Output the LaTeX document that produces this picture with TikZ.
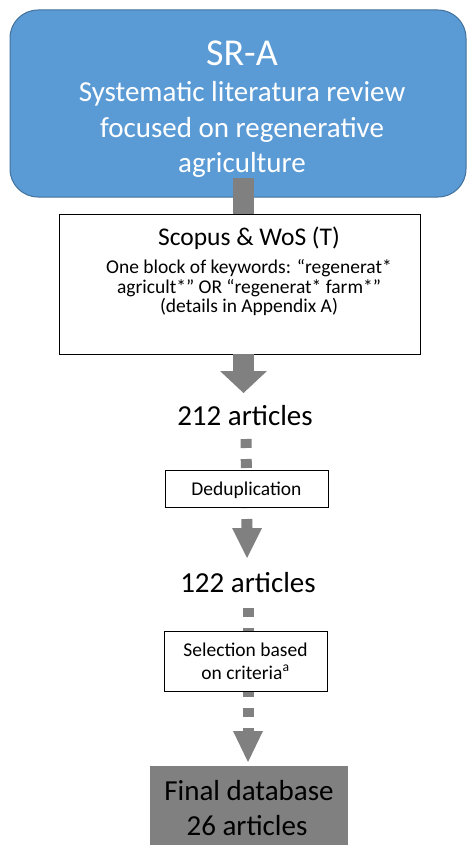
\documentclass[tikz,border=0pt]{standalone}
\usepackage{fontspec}
\setmainfont{Carlito}
\definecolor{boxblue}{HTML}{5B9BD5}
\definecolor{boxblueline}{HTML}{41719C}
\definecolor{flowgray}{HTML}{808080}
\begin{document}
\begin{tikzpicture}[x=1pt,y=-1pt,
  txt/.style={inner sep=0pt, anchor=base},
  bigtxt/.style={txt, font=\fontsize{29pt}{34pt}\selectfont},
  midtxt/.style={txt, font=\fontsize{25.5pt}{28pt}\selectfont},
  smalltxt/.style={txt, font=\fontsize{19.5pt}{22pt}\selectfont},
  bigshaft/.style={draw=flowgray, line width=21pt},
  dotshaft/.style={draw=flowgray, line width=11pt, dash pattern=on 9pt off 11pt},
  headfill/.style={fill=flowgray},
  stepbox/.style={draw=black, fill=white, line width=0.9pt, inner sep=0pt},
]
\useasboundingbox (0,0) rectangle (466,845);

% top blue box
\node[draw=boxblueline, fill=boxblue, line width=1pt, rounded corners=28pt,
      minimum width=456pt, minimum height=187pt, inner sep=0pt] (sra) at (238,103.5) {};
\node[txt, text=white, font=\fontsize{38pt}{40pt}\selectfont] (sraT) at (242,66) {SR-A};
\node[bigtxt, text=white] (sra1) at (242,102) {Systematic literatura review};
\node[bigtxt, text=white] (sra2) at (242,138) {focused on regenerative};
\node[bigtxt, text=white] (sra3) at (242,173) {agriculture};

% search box
\node[stepbox, minimum width=361pt, minimum height=140pt] (search) at (239.5,284) {};
\coordinate (s1top) at (243,178);
\draw[bigshaft] (s1top) -- (s1top |- search.north);
\node[midtxt] (searchT) at (249,245) {Scopus \& WoS (T)};
\node[smalltxt] (search1) at (249,273) {One block of keywords: “regenerat*};
\node[smalltxt] (search2) at (249,293) {agricult*” OR “regenerat* farm*”};
\node[smalltxt] (search3) at (249,312) {(details in Appendix A)};

% arrow 1
\coordinate (tip1) at (243.5,393);
\draw[bigshaft] (tip1 |- search.south) -- ([yshift=22pt]tip1);
\fill[headfill] ([xshift=-23.5pt,yshift=22pt]tip1) -- ([xshift=23.5pt,yshift=22pt]tip1) -- (tip1) -- cycle;

\node[bigtxt] (n212) at (245,425) {212 articles};

% dotted arrow 2 with deduplication
\coordinate (d2s) at (246,439);
\coordinate (tip2) at (247,558);
\draw[dotshaft] (d2s) -- ([yshift=30pt]tip2);
\fill[headfill] ([xshift=-15pt,yshift=30pt]tip2) -- ([xshift=15pt,yshift=30pt]tip2) -- (tip2) -- cycle;
\node[stepbox, minimum width=163pt, minimum height=37pt] (dedup) at (246.5,488.5) {};
\node[smalltxt] (dedupT) at (246.5,495) {Deduplication};

\node[bigtxt] (n122) at (248,592) {122 articles};

% dotted arrow 3 with selection
\coordinate (d3s) at (248,608);
\coordinate (tip3) at (248,762);
\draw[dotshaft] (d3s) -- ([yshift=31pt]tip3);
\fill[headfill] ([xshift=-15pt,yshift=31pt]tip3) -- ([xshift=15pt,yshift=31pt]tip3) -- (tip3) -- cycle;
\node[stepbox, minimum width=163pt, minimum height=60pt] (sel) at (245.5,661) {};
\node[smalltxt] (sel1) at (245.5,656) {Selection based};
\node[smalltxt] (sel2) at (245.5,679) {on criteria\textsuperscript{a}};

% final box
\node[fill=flowgray, minimum width=198pt, minimum height=84pt, inner sep=0pt] (final) at (249,808) {};
\node[bigtxt] (final1) at (249,800) {Final database};
\node[bigtxt] (final2) at (247,835) {26 articles};
\end{tikzpicture}
\end{document}
